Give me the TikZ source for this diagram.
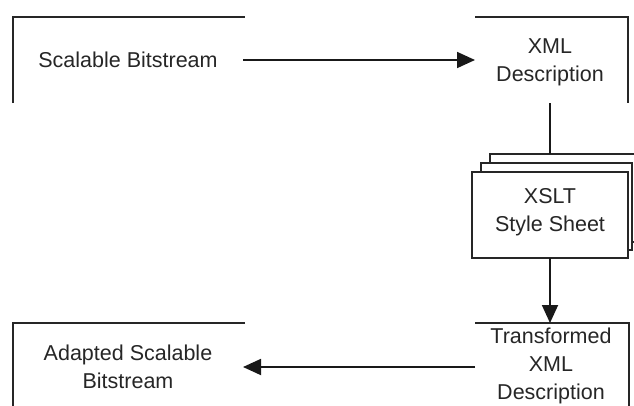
\documentclass[tikz,border=0pt]{standalone}
\usepackage{fontspec}
\setmainfont{Liberation Sans}
\usetikzlibrary{arrows.meta}
\begin{document}
\begin{tikzpicture}[x=1pt,y=-1pt,
  frame/.style={line width=2pt,draw=black!85,line cap=butt},
  sheet/.style={line width=2pt,draw=black!85,fill=white},
  label/.style={font=\fontsize{21.5}{28}\selectfont,text=black!85,align=center,inner sep=0pt},
  flow/.style={line width=1.8pt,draw=black!90,-{Triangle[length=18pt,width=16pt]}},
  link/.style={line width=1.8pt,draw=black!90}]
\useasboundingbox (0,0) rectangle (634,405);
\clip (0,0) rectangle (634,405);

% open frames of the four outer boxes
\draw[frame] (13,103) -- (13,17) -- (245,17);
\draw[frame] (475,17) -- (628,17) -- (628,103);
\draw[frame] (475,323) -- (629,323) -- (629,412);
\draw[frame] (245,323) -- (13,323) -- (13,412);

% stacked style sheets
\draw[sheet] (490,154) rectangle (645,242);
\draw[sheet] (481,163) rectangle (632,250);
\draw[sheet,line width=2.8pt] (472,172) rectangle (628,258);

% texts
\node[label] (sb)  at (128,60)  {Scalable Bitstream};
\node[label] (xml) at (550,62)  {XML\\Description};
\node[label] (xsl) at (550,212) {XSLT\\Style Sheet};
\node[label] (txd) at (551,366) {Transformed\\XML\\Description};
\node[label] (asb) at (128,367) {Adapted Scalable\\Bitstream};

% connector end points on the box frames
\coordinate (sbOut)  at (243,60);
\coordinate (xmlIn)  at (475,60);
\coordinate (xmlBot) at (550,103);
\coordinate (xslTop) at (550,154);
\coordinate (xslBot) at (550,258);
\coordinate (txdTop) at (550,323);
\coordinate (txdOut) at (475,367);
\coordinate (asbIn)  at (243,367);

% connectors
\draw[flow] (sbOut) -- (xmlIn);
\draw[link] (xmlBot) -- (xslTop);
\draw[flow] (xslBot) -- (txdTop);
\draw[flow] (txdOut) -- (asbIn);
\end{tikzpicture}
\end{document}
